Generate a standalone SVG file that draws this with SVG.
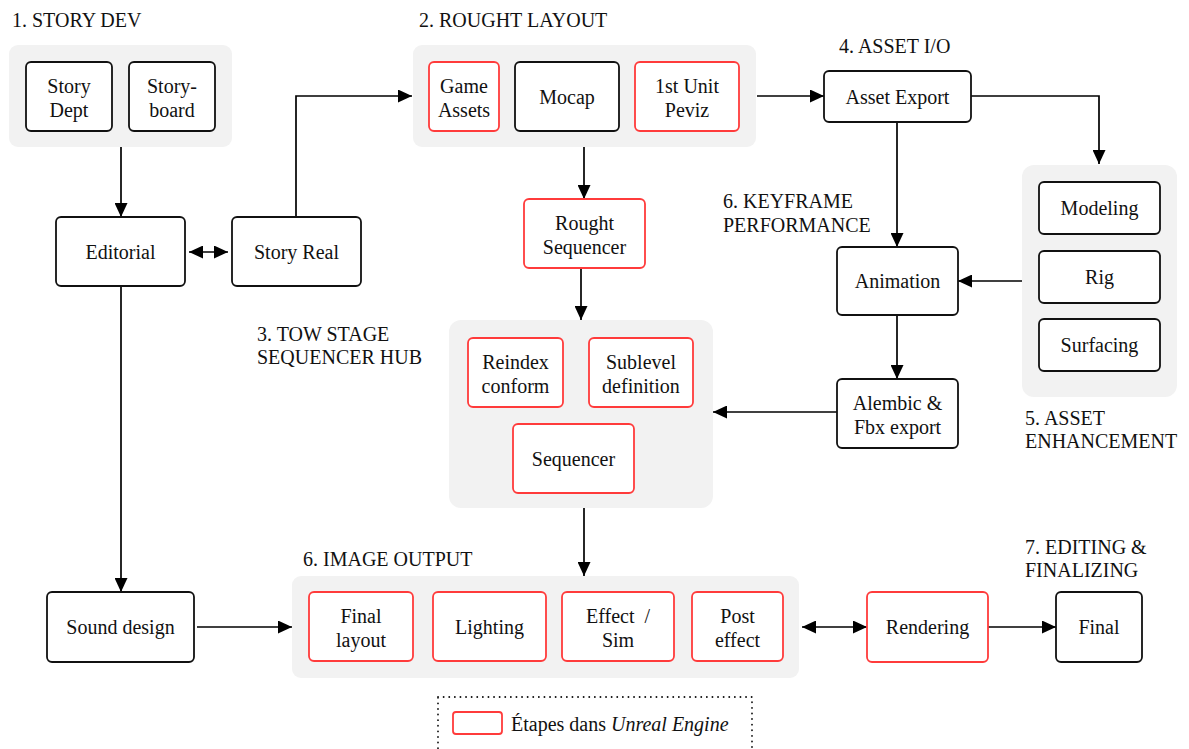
<svg xmlns="http://www.w3.org/2000/svg" width="1189" height="749" viewBox="0 0 1189 749">
<style>
text{font-family:'Liberation Serif','Times New Roman',serif;font-size:20px;fill:#111}
.c{text-anchor:middle}
.bg{fill:#f2f2f2;stroke:none}
.n{fill:#fff;stroke:#111;stroke-width:1.8}
.r{fill:#fff;stroke:#ff3b3b;stroke-width:1.8}
.e{fill:none;stroke:#000;stroke-width:1.7}
</style>
<defs>
<marker id="a" markerUnits="userSpaceOnUse" markerWidth="14" markerHeight="13" refX="14" refY="6.5" orient="auto-start-reverse"><path d="M0,0 L14,6.5 L0,13 z" fill="#000"/></marker>
</defs>
<rect width="1189" height="749" fill="#fff"/>

<g id="labels">
<text x="12" y="27">1. STORY DEV</text>
<text x="419" y="27">2. ROUGHT LAYOUT</text>
<text x="839" y="53">4. ASSET I/O</text>
<text x="723" y="208">6. KEYFRAME</text>
<text x="723" y="232">PERFORMANCE</text>
<text x="257" y="341">3. TOW STAGE</text>
<text x="257" y="364">SEQUENCER HUB</text>
<text x="1025" y="425">5. ASSET</text>
<text x="1025" y="448">ENHANCEMENT</text>
<text x="303" y="566">6. IMAGE OUTPUT</text>
<text x="1025" y="554">7. EDITING &amp;</text>
<text x="1025" y="577">FINALIZING</text>
</g>

<g id="group1-bg"><rect class="bg" x="9" y="45" width="223" height="102" rx="9"/></g>
<g id="group2-bg"><rect class="bg" x="413" y="45" width="343" height="102" rx="9"/></g>
<g id="group3-bg"><rect class="bg" x="449" y="320" width="264" height="188" rx="12"/></g>
<g id="group5-bg"><rect class="bg" x="1022" y="165" width="155" height="232" rx="12"/></g>
<g id="group6-bg"><rect class="bg" x="292" y="576" width="507" height="102" rx="9"/></g>

<g id="connectors">
<line class="e" x1="121" y1="147" x2="121" y2="217" marker-end="url(#a)"/>
<line class="e" x1="189" y1="252" x2="228" y2="252" marker-start="url(#a)" marker-end="url(#a)"/>
<polyline class="e" points="296,217 296,96 412,96" marker-end="url(#a)"/>
<line class="e" x1="121" y1="286" x2="121" y2="592" marker-end="url(#a)"/>
<line class="e" x1="584" y1="147" x2="584" y2="199" marker-end="url(#a)"/>
<line class="e" x1="757" y1="96" x2="824" y2="96" marker-end="url(#a)"/>
<polyline class="e" points="971,96 1099,96 1099,164" marker-end="url(#a)"/>
<line class="e" x1="897" y1="122" x2="897" y2="247" marker-end="url(#a)"/>
<line class="e" x1="1022" y1="281" x2="958" y2="281" marker-end="url(#a)"/>
<line class="e" x1="897" y1="315" x2="897" y2="379" marker-end="url(#a)"/>
<line class="e" x1="837" y1="412" x2="713" y2="412" marker-end="url(#a)"/>
<line class="e" x1="581" y1="268" x2="581" y2="320" marker-end="url(#a)"/>
<line class="e" x1="584" y1="508" x2="584" y2="576" marker-end="url(#a)"/>
<line class="e" x1="197" y1="627" x2="292" y2="627" marker-end="url(#a)"/>
<line class="e" x1="802" y1="627" x2="867" y2="627" marker-start="url(#a)" marker-end="url(#a)"/>
<line class="e" x1="988" y1="627" x2="1056" y2="627" marker-end="url(#a)"/>
</g>

<g id="story-dept"><rect class="n" x="26" y="62" width="86" height="69" rx="5"/><text class="c" x="69" y="92.5">Story</text><text class="c" x="69" y="116.5">Dept</text></g>
<g id="storyboard"><rect class="n" x="129" y="62" width="86" height="69" rx="5"/><text class="c" x="172" y="92.5">Story-</text><text class="c" x="172" y="116.5">board</text></g>
<g id="editorial"><rect class="n" x="56" y="217" width="129" height="69" rx="5"/><text class="c" x="120.5" y="259">Editorial</text></g>
<g id="story-real"><rect class="n" x="232" y="217" width="129" height="69" rx="5"/><text class="c" x="296.5" y="259">Story Real</text></g>

<g id="game-assets"><rect class="r" x="429" y="62" width="70" height="69" rx="5"/><text class="c" x="464" y="92.5">Game</text><text class="c" x="464" y="116.5">Assets</text></g>
<g id="mocap"><rect class="n" x="515" y="62" width="104" height="69" rx="5"/><text class="c" x="567" y="104">Mocap</text></g>
<g id="first-unit"><rect class="r" x="635" y="62" width="104" height="69" rx="5"/><text class="c" x="687" y="92.5">1st Unit</text><text class="c" x="687" y="116.5">Peviz</text></g>
<g id="rought-sequencer"><rect class="r" x="524" y="199" width="121" height="69" rx="5"/><text class="c" x="584.5" y="229.5">Rought</text><text class="c" x="584.5" y="253.5">Sequencer</text></g>

<g id="asset-export"><rect class="n" x="824" y="71" width="147" height="51" rx="5"/><text class="c" x="897.5" y="104">Asset Export</text></g>
<g id="modeling"><rect class="n" x="1039" y="182" width="121" height="52" rx="5"/><text class="c" x="1099.5" y="215">Modeling</text></g>
<g id="rig"><rect class="n" x="1039" y="251" width="121" height="52" rx="5"/><text class="c" x="1099.5" y="284">Rig</text></g>
<g id="surfacing"><rect class="n" x="1039" y="319" width="121" height="52" rx="5"/><text class="c" x="1099.5" y="352">Surfacing</text></g>
<g id="animation"><rect class="n" x="837" y="247" width="121" height="68" rx="5"/><text class="c" x="897.5" y="288">Animation</text></g>
<g id="alembic"><rect class="n" x="837" y="379" width="121" height="69" rx="5"/><text class="c" x="897.5" y="409.5">Alembic &amp;</text><text class="c" x="897.5" y="433.5">Fbx export</text></g>

<g id="reindex"><rect class="r" x="468" y="338" width="95" height="69" rx="5"/><text class="c" x="515.5" y="368.5">Reindex</text><text class="c" x="515.5" y="392.5">conform</text></g>
<g id="sublevel"><rect class="r" x="589" y="338" width="104" height="69" rx="5"/><text class="c" x="641" y="368.5">Sublevel</text><text class="c" x="641" y="392.5">definition</text></g>
<g id="sequencer"><rect class="r" x="513" y="424" width="121" height="69" rx="5"/><text class="c" x="573.5" y="466">Sequencer</text></g>

<g id="sound-design"><rect class="n" x="47" y="592" width="147" height="70" rx="5"/><text class="c" x="120.5" y="634">Sound design</text></g>
<g id="final-layout"><rect class="r" x="309" y="592" width="104" height="69" rx="5"/><text class="c" x="361" y="622.5">Final</text><text class="c" x="361" y="646.5">layout</text></g>
<g id="lighting"><rect class="r" x="433" y="592" width="113" height="69" rx="5"/><text class="c" x="489.5" y="634">Lighting</text></g>
<g id="effect-sim"><rect class="r" x="562" y="592" width="112" height="69" rx="5"/><text class="c" x="618" y="622.5" xml:space="preserve">Effect  /</text><text class="c" x="618" y="646.5">Sim</text></g>
<g id="post-effect"><rect class="r" x="692" y="592" width="91" height="69" rx="5"/><text class="c" x="737.5" y="622.5">Post</text><text class="c" x="737.5" y="646.5">effect</text></g>
<g id="rendering"><rect class="r" x="867" y="592" width="121" height="70" rx="5"/><text class="c" x="927.5" y="634">Rendering</text></g>
<g id="final"><rect class="n" x="1056" y="592" width="86" height="70" rx="5"/><text class="c" x="1099" y="634">Final</text></g>

<g id="legend">
<rect x="438" y="697" width="314" height="70" fill="none" stroke="#111" stroke-width="1.8" stroke-dasharray="0.1 5.5" stroke-linecap="round"/>
<rect class="r" x="453" y="712" width="49" height="22" rx="3"/>
<text x="511" y="731">Étapes dans <tspan font-style="italic">Unreal Engine</tspan></text>
</g>
</svg>
